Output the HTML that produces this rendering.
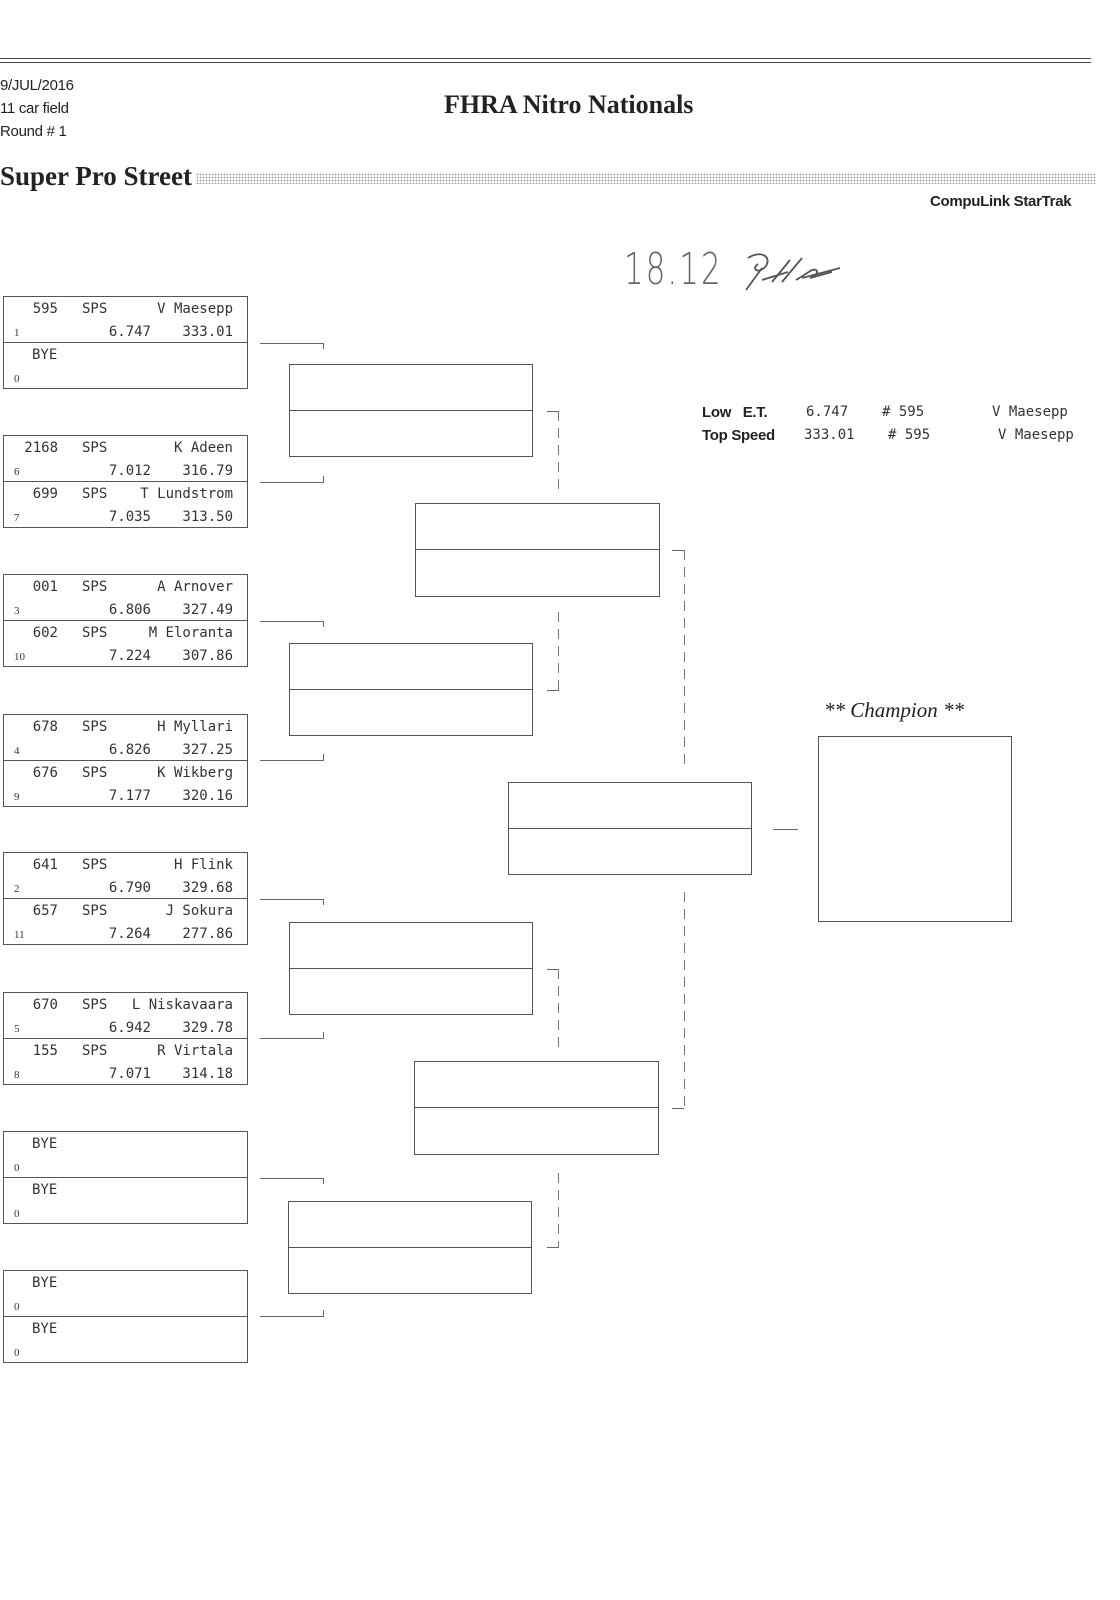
<!DOCTYPE html>
<html><head><meta charset="utf-8"><style>
*{margin:0;padding:0;box-sizing:border-box}
body{width:1120px;height:1600px;background:#fff;position:relative;overflow:hidden;font-family:"Liberation Sans",sans-serif;color:#222}
.a{position:absolute;white-space:nowrap}
.b{position:absolute;left:3px;width:245px;height:93px;border:1.5px solid #555}
.b .m{position:absolute;left:0;right:0;top:45px;border-top:1.5px solid #555}
.h{position:absolute;left:0;right:0;height:46px;font-family:"DejaVu Sans Mono","Liberation Mono",monospace;font-size:14px;color:#333}
.h span{position:absolute;line-height:16px}
.n{right:189px;top:4px}
.s{left:78px;top:4px}
.nm{right:14px;top:4px}
.sd{left:10px;top:28px;font-family:"Liberation Serif",serif;font-size:11px}
.et{right:96px;top:27px}
.sp{right:14px;top:27px}
.bx{position:absolute;border:1.5px solid #555}
.bx .m{position:absolute;left:0;right:0;top:45px;border-top:1.5px solid #555}
.hl{position:absolute;border-top:1.2px solid #666;height:0}
.vl{position:absolute;border-left:1.2px solid #666;width:0}
.dl{position:absolute;width:1.2px;background:repeating-linear-gradient(to bottom,#777 0 10px,transparent 10px 17px)}
.st{font-family:"DejaVu Sans Mono","Liberation Mono",monospace;font-size:14px;color:#333}
</style></head><body>
<div class="hl" style="left:0;top:58px;width:1091px;border-top:1.5px solid #444"></div>
<div class="hl" style="left:0;top:62px;width:1091px;border-top:1.5px solid #444"></div>
<div class="a" style="left:0;top:77px;font-size:15px;letter-spacing:-0.3px">9/JUL/2016</div>
<div class="a" style="left:0;top:100px;font-size:15px;letter-spacing:-0.3px">11 car field</div>
<div class="a" style="left:0;top:123px;font-size:15px;letter-spacing:-0.3px">Round # 1</div>
<div class="a" style="left:444px;top:90px;font-family:'Liberation Serif',serif;font-weight:bold;font-size:26px">FHRA Nitro Nationals</div>
<div class="a" style="left:0;top:161px;font-family:'Liberation Serif',serif;font-weight:bold;font-size:27px">Super Pro Street</div>
<div class="a" style="left:196px;top:173px;width:900px;height:11px;background-image:radial-gradient(#aaa 0.8px,transparent 1px);background-size:3px 3px"></div>
<div class="a" style="left:930px;top:193px;font-size:15px;font-weight:bold;color:#222;letter-spacing:-0.3px">CompuLink StarTrak</div>
<div class="a" style="left:624px;top:244px;font-family:'DejaVu Sans',sans-serif;font-weight:200;font-size:44px;color:#666;letter-spacing:3px;transform:scaleX(0.7);transform-origin:left">18.12</div>
<svg class="a" style="left:740px;top:250px" width="130" height="50"><path d="M8 8 C20 0 32 6 26 16 C20 24 10 20 18 14 M22 18 L6 40 M22 30 L48 22 M32 32 L50 10 M42 32 L62 8 M56 30 L72 20 C80 18 78 26 70 28 L92 22 M62 28 L100 18" stroke="#555" stroke-width="1.8" fill="none"/></svg>
<div class="a" style="left:702px;top:404px;font-size:15px;font-weight:bold;letter-spacing:-0.3px">Low&nbsp;&nbsp; E.T.</div>
<div class="a" style="left:702px;top:427px;font-size:15px;font-weight:bold;letter-spacing:-0.3px">Top Speed</div>
<div class="a st" style="left:806px;top:404px">6.747</div>
<div class="a st" style="left:882px;top:404px"># 595</div>
<div class="a st" style="left:992px;top:404px">V Maesepp</div>
<div class="a st" style="left:804px;top:427px">333.01</div>
<div class="a st" style="left:888px;top:427px"># 595</div>
<div class="a st" style="left:998px;top:427px">V Maesepp</div>

<!-- Round 1 -->
<div class="b" style="top:296px"><div class="m"></div>
<div class="h" style="top:0"><span class="n">595</span><span class="s">SPS</span><span class="nm">V Maesepp</span><span class="sd">1</span><span class="et">6.747</span><span class="sp">333.01</span></div>
<div class="h" style="top:46px"><span class="s" style="left:28px">BYE</span><span class="sd">0</span></div></div>

<div class="b" style="top:435px"><div class="m"></div>
<div class="h" style="top:0"><span class="n">2168</span><span class="s">SPS</span><span class="nm">K Adeen</span><span class="sd">6</span><span class="et">7.012</span><span class="sp">316.79</span></div>
<div class="h" style="top:46px"><span class="n">699</span><span class="s">SPS</span><span class="nm">T Lundstrom</span><span class="sd">7</span><span class="et">7.035</span><span class="sp">313.50</span></div></div>

<div class="b" style="top:574px"><div class="m"></div>
<div class="h" style="top:0"><span class="n">001</span><span class="s">SPS</span><span class="nm">A Arnover</span><span class="sd">3</span><span class="et">6.806</span><span class="sp">327.49</span></div>
<div class="h" style="top:46px"><span class="n">602</span><span class="s">SPS</span><span class="nm">M Eloranta</span><span class="sd">10</span><span class="et">7.224</span><span class="sp">307.86</span></div></div>

<div class="b" style="top:714px"><div class="m"></div>
<div class="h" style="top:0"><span class="n">678</span><span class="s">SPS</span><span class="nm">H Myllari</span><span class="sd">4</span><span class="et">6.826</span><span class="sp">327.25</span></div>
<div class="h" style="top:46px"><span class="n">676</span><span class="s">SPS</span><span class="nm">K Wikberg</span><span class="sd">9</span><span class="et">7.177</span><span class="sp">320.16</span></div></div>

<div class="b" style="top:852px"><div class="m"></div>
<div class="h" style="top:0"><span class="n">641</span><span class="s">SPS</span><span class="nm">H Flink</span><span class="sd">2</span><span class="et">6.790</span><span class="sp">329.68</span></div>
<div class="h" style="top:46px"><span class="n">657</span><span class="s">SPS</span><span class="nm">J Sokura</span><span class="sd">11</span><span class="et">7.264</span><span class="sp">277.86</span></div></div>

<div class="b" style="top:992px"><div class="m"></div>
<div class="h" style="top:0"><span class="n">670</span><span class="s">SPS</span><span class="nm">L Niskavaara</span><span class="sd">5</span><span class="et">6.942</span><span class="sp">329.78</span></div>
<div class="h" style="top:46px"><span class="n">155</span><span class="s">SPS</span><span class="nm">R Virtala</span><span class="sd">8</span><span class="et">7.071</span><span class="sp">314.18</span></div></div>

<div class="b" style="top:1131px"><div class="m"></div>
<div class="h" style="top:0"><span class="s" style="left:28px">BYE</span><span class="sd">0</span></div>
<div class="h" style="top:46px"><span class="s" style="left:28px">BYE</span><span class="sd">0</span></div></div>

<div class="b" style="top:1270px"><div class="m"></div>
<div class="h" style="top:0"><span class="s" style="left:28px">BYE</span><span class="sd">0</span></div>
<div class="h" style="top:46px"><span class="s" style="left:28px">BYE</span><span class="sd">0</span></div></div>

<!-- R1 -> R2 connectors -->
<div class="hl" style="left:260px;top:343px;width:64px"></div><div class="vl" style="left:323px;top:343px;height:6px"></div>
<div class="hl" style="left:260px;top:482px;width:64px"></div><div class="vl" style="left:323px;top:476px;height:6px"></div>
<div class="hl" style="left:260px;top:621px;width:64px"></div><div class="vl" style="left:323px;top:621px;height:6px"></div>
<div class="hl" style="left:260px;top:760px;width:64px"></div><div class="vl" style="left:323px;top:754px;height:6px"></div>
<div class="hl" style="left:260px;top:899px;width:64px"></div><div class="vl" style="left:323px;top:899px;height:6px"></div>
<div class="hl" style="left:260px;top:1038px;width:64px"></div><div class="vl" style="left:323px;top:1032px;height:6px"></div>
<div class="hl" style="left:260px;top:1178px;width:64px"></div><div class="vl" style="left:323px;top:1178px;height:6px"></div>
<div class="hl" style="left:260px;top:1316px;width:64px"></div><div class="vl" style="left:323px;top:1310px;height:6px"></div>

<!-- Round 2 -->
<div class="bx" style="left:289px;top:364px;width:244px;height:93px"><div class="m"></div></div>
<div class="bx" style="left:289px;top:643px;width:244px;height:93px"><div class="m"></div></div>
<div class="bx" style="left:289px;top:922px;width:244px;height:93px"><div class="m"></div></div>
<div class="bx" style="left:288px;top:1201px;width:244px;height:93px"><div class="m"></div></div>

<!-- R2 -> R3 -->
<div class="hl" style="left:547px;top:411px;width:12px"></div><div class="dl" style="left:558px;top:411px;height:78px"></div>
<div class="dl" style="left:558px;top:612px;height:78px"></div><div class="hl" style="left:547px;top:690px;width:12px"></div>
<div class="hl" style="left:547px;top:969px;width:12px"></div><div class="dl" style="left:558px;top:969px;height:78px"></div>
<div class="dl" style="left:558px;top:1173px;height:74px"></div><div class="hl" style="left:547px;top:1247px;width:12px"></div>

<!-- Round 3 -->
<div class="bx" style="left:415px;top:503px;width:245px;height:94px"><div class="m"></div></div>
<div class="bx" style="left:414px;top:1061px;width:245px;height:94px"><div class="m"></div></div>

<!-- R3 -> R4 -->
<div class="hl" style="left:672px;top:550px;width:12px"></div><div class="dl" style="left:684px;top:550px;height:216px"></div>
<div class="dl" style="left:684px;top:892px;height:216px"></div><div class="hl" style="left:672px;top:1108px;width:12px"></div>

<!-- Round 4 -->
<div class="bx" style="left:508px;top:782px;width:244px;height:93px"><div class="m"></div></div>
<div class="hl" style="left:773px;top:829px;width:25px"></div>

<div class="a" style="left:824px;top:698px;font-family:'Liberation Serif',serif;font-style:italic;font-size:21px">** Champion **</div>
<div class="bx" style="left:818px;top:736px;width:194px;height:186px"></div>
</body></html>
